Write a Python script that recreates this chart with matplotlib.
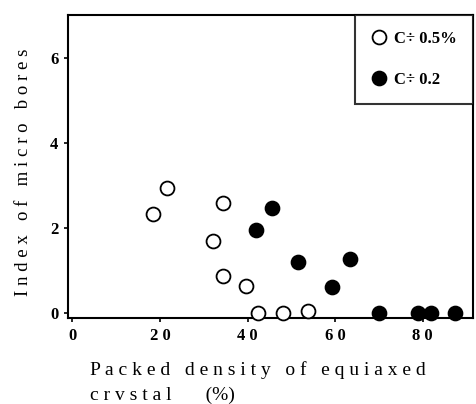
import matplotlib
matplotlib.use("Agg")
import matplotlib.pyplot as plt
from matplotlib.lines import Line2D

# Data
c05_x = [18.4, 21.7, 34.3, 32.1, 34.5, 39.7, 42.3, 48.2, 53.9]
c05_y = [2.33, 2.93, 2.59, 1.70, 0.86, 0.64, 0.0, 0.0, 0.04]
c02_x = [41.9, 45.7, 51.5, 63.3, 59.2, 70.0, 78.9, 81.8, 87.3]
c02_y = [1.95, 2.47, 1.19, 1.27, 0.61, 0.0, 0.0, 0.0, 0.0]
x_ticks = [0, 20, 40, 60, 80]
y_ticks = [0, 2, 4, 6]
legend_labels = ["C\u00f7 0.5%", "C\u00f7 0.2"]

plt.rcParams['font.family'] = ['Liberation Serif', 'DejaVu Serif']

fig = plt.figure(figsize=(4.76, 4.04), dpi=100)
ax = fig.add_axes([68/476, 1 - 318/404, (473-68)/476, (318-15)/404])

ax.plot(c05_x, c05_y, 'o', ls='none', ms=10, mfc='white', mec='black', mew=1.3, clip_on=False, zorder=3)
ax.plot(c02_x, c02_y, 'o', ls='none', ms=10, mfc='black', mec='black', mew=1.3, clip_on=False, zorder=3)

ax.set_xlim(-1, 91.5)
ax.set_ylim(-0.12, 7.0)
ax.set_xticks(x_ticks)
ax.set_yticks(y_ticks)
ax.set_xticklabels([" ".join(str(t)) for t in x_ticks], fontsize=12, fontweight='bold')
ax.set_yticklabels([str(t) for t in y_ticks], fontsize=12, fontweight='bold')
ax.tick_params(direction='out', length=3, width=1.2, pad=4)
for s in ax.spines.values():
    s.set_linewidth(1.5)

def spaced(s):
    return " ".join(s)

ax.set_ylabel(spaced("Index") + "   " + spaced("of") + "   " + spaced("micro") + "   " + spaced("bores"),
              fontsize=13.5)
ax.yaxis.set_label_coords(-0.09, 0.48)
fig.text(90/476, 1 - 370/404,
         spaced("Packed") + "   " + spaced("density") + "   " + spaced("of") + "   " + spaced("equiaxed"),
         fontsize=14, ha='left', va='center')
fig.text(90/476, 1 - 395/404, spaced("crvstal") + "       (%)",
         fontsize=14, ha='left', va='center')

handles = [
    Line2D([], [], marker='o', ls='none', ms=10, mfc='white', mec='black', mew=1.3),
    Line2D([], [], marker='o', ls='none', ms=10, mfc='black', mec='black', mew=1.3),
]
leg = ax.legend(handles, legend_labels, loc='upper right', borderaxespad=0,
                frameon=True, fancybox=False, edgecolor='black',
                prop={'weight': 'bold', 'size': 12}, handletextpad=0.5,
                labelspacing=1.5, borderpad=0.95, handlelength=0.9)
leg.get_frame().set_linewidth(1.5)

fig.savefig("out.png", dpi=100)
